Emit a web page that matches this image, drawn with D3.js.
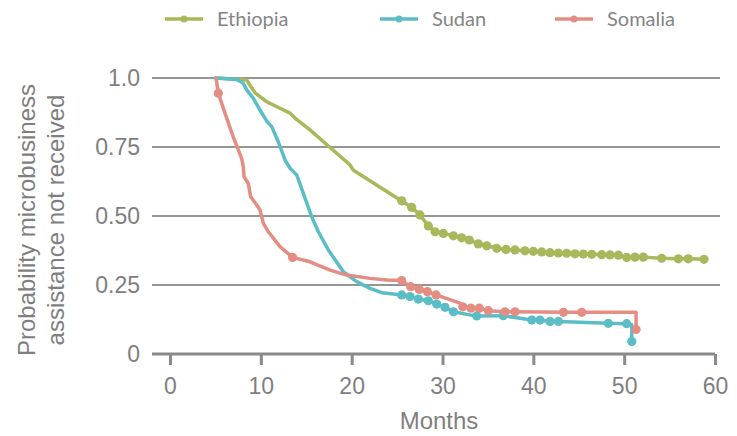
<!DOCTYPE html>
<html>
<head>
<meta charset="utf-8">
<script src="https://cdn.jsdelivr.net/npm/d3@7"></script>
<style>
  html, body { margin: 0; padding: 0; background: #fff; }
  svg { display: block; }
</style>
</head>
<body>
<svg id="chart" width="737" height="436"></svg>
<script>
// ---- Data ----
const seriesNames = ["Ethiopia", "Sudan", "Somalia"];
const xTicks = [0, 10, 20, 30, 40, 50, 60];
const yTicks = [0, 0.25, 0.5, 0.75, 1.0];
const yTickLabels = ["0", "0.25", "0.50", "0.75", "1.0"];

// Ethiopia: months, probability, censor-marker flag
const ethiopiaMonths = [5.32, 8.44, 9.36, 10.65, 13.21, 13.76, 15.41, 17.94, 19.82, 20.15, 24.99,
  25.51, 26.61, 27.52, 28.44, 29.18, 30.09, 31.20, 32.11, 32.95, 33.94, 34.87, 35.97, 36.99, 37.98,
  39.08, 40.00, 40.92, 41.84, 42.76, 43.67, 44.59, 45.50, 46.43, 47.53, 48.44, 49.36, 50.28, 51.19,
  52.11, 54.13, 55.97, 57.06, 58.79];
const ethiopiaValues = [1.0, 0.993, 0.946, 0.914, 0.873, 0.855, 0.812, 0.739, 0.685, 0.667, 0.565,
  0.555, 0.531, 0.504, 0.464, 0.443, 0.437, 0.428, 0.421, 0.413, 0.399, 0.392, 0.383, 0.379, 0.377,
  0.374, 0.372, 0.370, 0.367, 0.366, 0.365, 0.363, 0.362, 0.361, 0.360, 0.359, 0.358, 0.350, 0.351,
  0.351, 0.347, 0.345, 0.345, 0.343];
const ethiopiaMarked = [0, 0, 0, 0, 0, 0, 0, 0, 0, 0, 0,
  1, 1, 1, 1, 1, 1, 1, 1, 1, 1, 1, 1, 1, 1,
  1, 1, 1, 1, 1, 1, 1, 1, 1, 1, 1, 1, 1, 1,
  1, 1, 1, 1, 1];

const sudanMonths = [4.95, 7.34, 8.04, 8.44, 9.14, 9.91, 10.65, 11.20, 11.92, 12.66, 13.21, 13.95,
  14.68, 15.60, 16.33, 17.43, 19.09, 20.55, 22.02, 23.31, 24.58,
  25.51, 26.42, 27.34, 28.44, 29.36, 30.28, 31.20, 33.28, 33.77, 36.69, 39.83, 40.73, 41.84, 42.76,
  48.25, 50.28, 50.84, 50.84];
const sudanValues = [1.0, 0.995, 0.982, 0.957, 0.928, 0.884, 0.844, 0.824, 0.769, 0.703, 0.673, 0.649,
  0.582, 0.497, 0.443, 0.377, 0.298, 0.262, 0.238, 0.222, 0.217,
  0.214, 0.208, 0.199, 0.193, 0.181, 0.169, 0.153, 0.140, 0.138, 0.139, 0.123, 0.123, 0.118, 0.118,
  0.111, 0.110, 0.106, 0.045];
const sudanMarked = [0, 0, 0, 0, 0, 0, 0, 0, 0, 0, 0, 0,
  0, 0, 0, 0, 0, 0, 0, 0, 0,
  1, 1, 1, 1, 1, 1, 1, 0, 1, 1, 1, 1, 1, 1,
  1, 1, 0, 1];

const somaliaMonths = [5.07, 5.32, 6.06, 6.96, 7.89, 8.07, 8.15, 8.62, 8.88, 9.55, 9.91, 10.27, 10.82,
  12.11, 13.50, 15.41, 17.62, 19.45, 22.02, 23.86,
  25.51, 26.50, 27.45, 28.33, 29.29, 31.93, 32.23, 33.13, 34.05, 35.04, 36.88, 37.98, 43.31, 45.33,
  51.31, 51.31];
const somaliaValues = [1.0, 0.945, 0.872, 0.787, 0.709, 0.679, 0.642, 0.618, 0.570, 0.540, 0.522, 0.474, 0.443,
  0.389, 0.350, 0.334, 0.304, 0.286, 0.274, 0.268,
  0.266, 0.244, 0.234, 0.226, 0.214, 0.184, 0.171, 0.166, 0.166, 0.157, 0.153, 0.153, 0.151, 0.151,
  0.151, 0.089];
const somaliaMarked = [0, 1, 0, 0, 0, 0, 0, 0, 0, 0, 0, 0, 0,
  0, 1, 0, 0, 0, 0, 0,
  1, 1, 1, 1, 1, 0, 1, 1, 1, 1, 1, 1, 1, 1,
  0, 1];

const colors = ["#a8b85a", "#5bbdc6", "#e38d83"];

// ---- Build series ----
function build(months, values, marked) {
  return months.map((m, i) => ({ x: m, y: values[i], marked: marked[i] === 1 }));
}
const series = [
  { name: seriesNames[0], color: colors[0], pts: build(ethiopiaMonths, ethiopiaValues, ethiopiaMarked) },
  { name: seriesNames[1], color: colors[1], pts: build(sudanMonths, sudanValues, sudanMarked) },
  { name: seriesNames[2], color: colors[2], pts: build(somaliaMonths, somaliaValues, somaliaMarked) }
];

// ---- Layout ----
const svg = d3.select("#chart");
const x = d3.scaleLinear().domain([0, 60]).range([170, 715]);
const y = d3.scaleLinear().domain([0, 1]).range([354, 78]);
const gridLeft = 152, gridRight = 720;
const textColor = "#7f7f7f";
const axisColor = "#8a8a8a";
const labelFont = "'Liberation Sans', Arial, sans-serif";

// Gridlines
svg.append("g").selectAll("line")
  .data(yTicks.filter(d => d > 0))
  .join("line")
  .attr("x1", gridLeft).attr("x2", gridRight)
  .attr("y1", d => y(d)).attr("y2", d => y(d))
  .attr("stroke", "#959595").attr("stroke-width", 2);

// Y tick labels
svg.append("g").selectAll("text")
  .data(yTicks)
  .join("text")
  .attr("x", 140).attr("y", d => y(d))
  .attr("dy", "0.36em")
  .attr("text-anchor", "end")
  .attr("font-family", labelFont).attr("font-size", 23)
  .attr("fill", textColor)
  .text((d, i) => yTickLabels[i]);

// X axis
const xAxis = d3.axisBottom(x).tickValues(xTicks).tickSize(11).tickPadding(13).tickSizeOuter(0)
  .tickFormat(d3.format("d"));
const gx = svg.append("g").attr("transform", `translate(0,${y(0)})`).call(xAxis);
gx.select(".domain").remove();
gx.append("line").attr("x1", gridLeft).attr("x2", x(60)).attr("y1", 0).attr("y2", 0)
  .attr("stroke", axisColor).attr("stroke-width", 3);
gx.selectAll(".tick line").attr("stroke", axisColor).attr("stroke-width", 3);
gx.selectAll(".tick text").attr("font-family", labelFont).attr("font-size", 23).attr("fill", textColor);

// Axis titles
svg.append("text")
  .attr("x", 439).attr("y", 429)
  .attr("text-anchor", "middle")
  .attr("font-family", labelFont).attr("font-size", 24).attr("fill", textColor)
  .text("Months");

const yTitle = svg.append("text")
  .attr("transform", `translate(0,220) rotate(-90)`)
  .attr("text-anchor", "middle")
  .attr("font-family", labelFont).attr("font-size", 24).attr("fill", textColor);
yTitle.append("tspan").attr("x", 0).attr("y", 35).text("Probability microbusiness");
yTitle.append("tspan").attr("x", 0).attr("y", 64).text("assistance not received");

// Lines
const line = d3.line().x(d => x(d.x)).y(d => y(d.y)).curve(d3.curveLinear);
const gSeries = svg.append("g");
series.forEach(s => {
  gSeries.append("path")
    .datum(s.pts)
    .attr("d", line)
    .attr("fill", "none")
    .attr("stroke", s.color)
    .attr("stroke-width", 3.5)
    .attr("stroke-linejoin", "round")
    .attr("stroke-linecap", "round");
});
series.forEach(s => {
  gSeries.append("g").selectAll("circle")
    .data(s.pts.filter(d => d.marked))
    .join("circle")
    .attr("cx", d => x(d.x)).attr("cy", d => y(d.y))
    .attr("r", 4.6)
    .attr("fill", s.color);
});

// Legend
const legendX = [165, 380, 555];
const legend = svg.append("g");
series.forEach((s, i) => {
  const g = legend.append("g").attr("transform", `translate(${legendX[i]},19)`);
  g.append("line").attr("x1", 0).attr("x2", 38).attr("y1", 0).attr("y2", 0)
    .attr("stroke", s.color).attr("stroke-width", 3.5);
  g.append("circle").attr("cx", 19).attr("cy", 0).attr("r", 3.5).attr("fill", s.color);
  g.append("text").attr("x", 52).attr("y", 0).attr("dy", "0.35em")
    .attr("font-family", "Lato, 'Open Sans', sans-serif").attr("font-size", 20)
    .attr("fill", "#858585")
    .text(s.name);
});
</script>
</body>
</html>
